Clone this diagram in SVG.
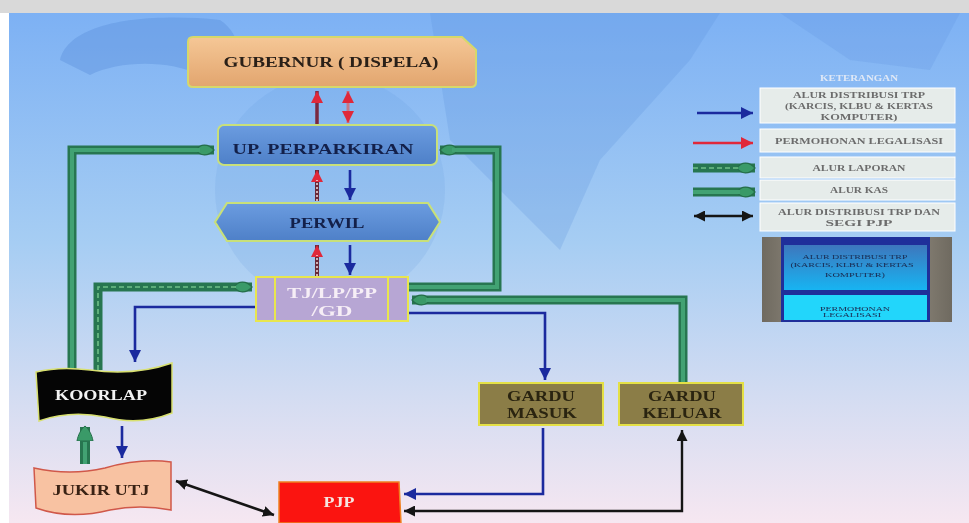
<svg xmlns="http://www.w3.org/2000/svg" width="969" height="523" viewBox="0 0 969 523">
<defs>
<linearGradient id="bg" x1="0" y1="0" x2="0" y2="1">
<stop offset="0" stop-color="#7db1f4"/>
<stop offset="0.45" stop-color="#a6cdf3"/>
<stop offset="0.75" stop-color="#d3dcf2"/>
<stop offset="1" stop-color="#f6e7f1"/>
</linearGradient>
<linearGradient id="gub" x1="0" y1="0" x2="0" y2="1">
<stop offset="0" stop-color="#f5c796"/>
<stop offset="1" stop-color="#e2a56e"/>
</linearGradient>
<linearGradient id="blu" x1="0" y1="0" x2="0" y2="1">
<stop offset="0" stop-color="#6b9ce0"/>
<stop offset="1" stop-color="#4e80c8"/>
</linearGradient>
<linearGradient id="pic" x1="0" y1="0" x2="0" y2="1">
<stop offset="0" stop-color="#3d77bd"/>
<stop offset="1" stop-color="#17b4f2"/>
</linearGradient>
<linearGradient id="edge" x1="0" y1="0" x2="1" y2="0">
<stop offset="0" stop-color="#6f6a60"/>
<stop offset="0.5" stop-color="#b0a89a"/>
<stop offset="1" stop-color="#6f6a60"/>
</linearGradient>
<marker id="ab" markerUnits="userSpaceOnUse" markerWidth="12" markerHeight="12" refX="10" refY="5" orient="auto-start-reverse" viewBox="0 0 10 10"><path d="M0,0 L10,5 L0,10 z" fill="#1b2a9e"/></marker>
<marker id="ak" markerUnits="userSpaceOnUse" markerWidth="11" markerHeight="11" refX="10" refY="5" orient="auto-start-reverse" viewBox="0 0 10 10"><path d="M0,0 L10,5 L0,10 z" fill="#151515"/></marker>
<marker id="ar" markerUnits="userSpaceOnUse" markerWidth="12" markerHeight="12" refX="10" refY="5" orient="auto-start-reverse" viewBox="0 0 10 10"><path d="M0,0 L10,5 L0,10 z" fill="#e0283a"/></marker>
<marker id="ag" markerUnits="userSpaceOnUse" markerWidth="20" markerHeight="14" refX="18" refY="7" orient="auto" viewBox="0 0 20 14"><path d="M0,7 C4,1 12,0 18,7 C12,14 4,13 0,7 Z" fill="#3a9a68" stroke="#256e4a" stroke-width="1.2"/></marker>
<marker id="agu" markerUnits="userSpaceOnUse" markerWidth="16" markerHeight="18" refX="14" refY="9" orient="auto" viewBox="0 0 16 18"><path d="M0,1 C6,2 12,5 15,9 C12,13 6,16 0,17 Z" fill="#3a9a68" stroke="#256e4a" stroke-width="1"/></marker>
</defs>
<style>
.t{font-family:"Liberation Serif","Times New Roman",serif;font-weight:bold;text-anchor:middle;font-size:14px}
.gO{fill:none;stroke:#277650;stroke-width:9;stroke-linejoin:miter}
.gI{fill:none;stroke:#42a273;stroke-width:4}
.gD{fill:none;stroke:#6fc088;stroke-width:1.6;stroke-dasharray:5 3}
.b{fill:none;stroke:#1b2a9e;stroke-width:2.6}
.k{fill:none;stroke:#151515;stroke-width:2.4}
.lg{fill:#e6ecea;stroke:#ffffff;stroke-width:1}
.lt{font-family:"Liberation Serif","Times New Roman",serif;font-size:9px;fill:#6c6c6c;text-anchor:middle;font-weight:bold}
.pt{font-family:"Liberation Serif","Times New Roman",serif;font-size:6px;fill:#1a2a50;text-anchor:middle}
</style>

<!-- background -->
<rect x="0" y="0" width="969" height="523" fill="#ffffff"/>
<rect x="0" y="0" width="969" height="13" fill="#d9d9d9"/>
<rect x="9" y="13" width="960" height="510" fill="url(#bg)"/>
<g fill="#5a8fdb" opacity="0.4">
<path d="M60,60 C70,20 150,13 220,20 C250,40 240,80 200,75 C170,60 120,60 90,75 Z"/>
<circle cx="330" cy="190" r="115" opacity="0.35"/>
<path d="M430,13 L720,13 L690,60 L600,160 L560,250 L450,140 Z" opacity="0.55"/>
<path d="M780,13 L960,13 L930,70 L850,60 Z" opacity="0.5"/>
</g>

<!-- connectors -->
<g id="connectors">
<path class="gO" d="M72,370 L72,150 L214,150" marker-end="url(#ag)"/>
<path class="gI" d="M72,370 L72,150 L200,150"/>
<path class="gO" d="M98,370 L98,287 L252,287" stroke="#2a6c4a" marker-end="url(#ag)"/>
<path class="gD" d="M98,370 L98,287 L238,287"/>
<path class="gO" d="M408,287 L497,287 L497,150 L440,150" marker-end="url(#ag)"/>
<path class="gI" d="M408,287 L497,287 L497,150 L452,150"/>
<path class="gO" d="M683,382 L683,300 L412,300" marker-end="url(#ag)"/>
<path class="gI" d="M683,382 L683,300 L426,300"/>
<path d="M85,464 L85,427" stroke="#277650" stroke-width="10" fill="none" marker-end="url(#agu)"/>
<path d="M85,464 L85,442" stroke="#42a273" stroke-width="4" fill="none"/>

<path class="b" d="M255,307 L135,307 L135,362" marker-end="url(#ab)"/>
<path class="b" d="M408,313 L545,313 L545,380" marker-end="url(#ab)"/>
<path class="b" d="M543,428 L543,494 L404,494" marker-end="url(#ab)" stroke="#1a2585"/>
<path class="b" d="M122,426 L122,458" marker-end="url(#ab)"/>
<path class="b" d="M350,170 L350,200" marker-end="url(#ab)"/>
<path class="b" d="M350,245 L350,275" marker-end="url(#ab)"/>

<path class="k" d="M404,511 L682,511 L682,430" marker-start="url(#ak)" marker-end="url(#ak)"/>
<path class="k" d="M176,481 L274,515" marker-start="url(#ak)" marker-end="url(#ak)"/>

<path d="M317,124 L317,91" stroke="#7a2840" stroke-width="3.5" fill="none" marker-end="url(#ar)"/>
<path d="M348,123 L348,91" stroke="#c87888" stroke-width="3" fill="none" marker-start="url(#ar)" marker-end="url(#ar)"/>
<path d="M317,201 L317,170" stroke="#6a2a3a" stroke-width="4" fill="none" marker-end="url(#ar)"/>
<path d="M317,201 L317,180" stroke="#f0e0e0" stroke-width="1.5" stroke-dasharray="2 2" fill="none"/>
<path d="M317,276 L317,245" stroke="#6a2a3a" stroke-width="4" fill="none" marker-end="url(#ar)"/>
<path d="M317,276 L317,255" stroke="#f0e0e0" stroke-width="1.5" stroke-dasharray="2 2" fill="none"/>
</g>

<!-- nodes -->
<g id="gubernur">
<path d="M193,37 L462,37 L476,50 L476,82 Q476,87 471,87 L193,87 Q188,87 188,82 L188,42 Q188,37 193,37 Z" fill="url(#gub)" stroke="#d6d86a" stroke-width="2"/>
<text class="t" x="331" y="67" fill="#2a2018" textLength="215" lengthAdjust="spacingAndGlyphs">GUBERNUR ( DISPELA)</text>
</g>
<g id="up-perparkiran">
<rect x="218" y="125" width="219" height="40" rx="6" fill="url(#blu)" stroke="#c8e07a" stroke-width="2"/>
<text class="t" x="323" y="154" fill="#13204a" textLength="181" lengthAdjust="spacingAndGlyphs">UP. PERPARKIRAN</text>
</g>
<g id="perwil">
<path d="M215,222 L227,203 L428,203 L440,222 L428,241 L227,241 Z" fill="url(#blu)" stroke="#c8e07a" stroke-width="2.2"/>
<text class="t" x="327" y="228" fill="#13204a" textLength="75" lengthAdjust="spacingAndGlyphs">PERWIL</text>
</g>
<g id="tj">
<rect x="256" y="277" width="152" height="44" fill="#b7a6d4" stroke="#e8e64e" stroke-width="2"/>
<line x1="275" y1="277" x2="275" y2="321" stroke="#e8e64e" stroke-width="2"/>
<line x1="388" y1="277" x2="388" y2="321" stroke="#e8e64e" stroke-width="2"/>
<text class="t" x="332" y="298" fill="#f6eef6" textLength="90" lengthAdjust="spacingAndGlyphs">TJ/LP/PP</text>
<text class="t" x="332" y="316" fill="#f6eef6" textLength="41" lengthAdjust="spacingAndGlyphs">/GD</text>
</g>
<g id="koorlap">
<path d="M36,372 Q60,366 90,370 Q135,376 172,363 L172,413 Q140,426 105,417 Q70,410 39,421 Z" fill="#050505" stroke="#d8e070" stroke-width="1.5"/>
<text class="t" x="101" y="400" fill="#f2f2f2" textLength="92" lengthAdjust="spacingAndGlyphs">KOORLAP</text>
</g>
<g id="jukir">
<path d="M34,468 Q70,476 105,468 Q140,458 171,462 L171,510 Q140,504 110,510 Q70,520 36,508 Z" fill="#f8c2a2" stroke="#d0584a" stroke-width="1.5"/>
<text class="t" x="101" y="495" fill="#3a2214" textLength="97" lengthAdjust="spacingAndGlyphs">JUKIR UTJ</text>
</g>
<g id="pjp">
<path d="M279,482 L399,482 L401,523 L279,523 Z" fill="#fb1410" stroke="#f08020" stroke-width="1.5"/>
<text class="t" x="339" y="507" fill="#f6e6e0" font-size="13" textLength="31" lengthAdjust="spacingAndGlyphs">PJP</text>
</g>
<g id="gardu-masuk">
<rect x="479" y="383" width="124" height="42" fill="#8b7d47" stroke="#e4e046" stroke-width="2"/>
<text class="t" x="541" y="401" fill="#2a2410" textLength="68" lengthAdjust="spacingAndGlyphs">GARDU</text>
<text class="t" x="542" y="418" fill="#2a2410" textLength="70" lengthAdjust="spacingAndGlyphs">MASUK</text>
</g>
<g id="gardu-keluar">
<rect x="619" y="383" width="124" height="42" fill="#8b7d47" stroke="#e4e046" stroke-width="2"/>
<text class="t" x="682" y="401" fill="#2a2410" textLength="68" lengthAdjust="spacingAndGlyphs">GARDU</text>
<text class="t" x="682" y="418" fill="#2a2410" textLength="79" lengthAdjust="spacingAndGlyphs">KELUAR</text>
</g>

<!-- legend -->
<g id="legend">
<text class="lt" x="859" y="81" style="fill:#dfe8f6" textLength="78" lengthAdjust="spacingAndGlyphs">KETERANGAN</text>
<rect class="lg" x="760" y="88" width="195" height="35"/>
<text class="lt" x="859" y="98" textLength="132" lengthAdjust="spacingAndGlyphs">ALUR DISTRIBUSI TRP</text>
<text class="lt" x="859" y="109" textLength="148" lengthAdjust="spacingAndGlyphs">(KARCIS, KLBU &amp; KERTAS</text>
<text class="lt" x="859" y="120" textLength="77" lengthAdjust="spacingAndGlyphs">KOMPUTER)</text>
<rect class="lg" x="760" y="129" width="195" height="23"/>
<text class="lt" x="859" y="144" textLength="168" lengthAdjust="spacingAndGlyphs">PERMOHONAN LEGALISASI</text>
<rect class="lg" x="760" y="157" width="195" height="21"/>
<text class="lt" x="859" y="171" textLength="93" lengthAdjust="spacingAndGlyphs">ALUR LAPORAN</text>
<rect class="lg" x="760" y="180" width="195" height="20"/>
<text class="lt" x="859" y="193" textLength="58" lengthAdjust="spacingAndGlyphs">ALUR KAS</text>
<rect class="lg" x="760" y="203" width="195" height="28"/>
<text class="lt" x="859" y="215" textLength="162" lengthAdjust="spacingAndGlyphs">ALUR DISTRIBUSI TRP DAN</text>
<text class="lt" x="859" y="226" textLength="67" lengthAdjust="spacingAndGlyphs">SEGI PJP</text>
<path class="b" d="M697,113 L753,113" marker-end="url(#ab)"/>
<path d="M693,143 L753,143" stroke="#e0283a" stroke-width="2.4" fill="none" marker-end="url(#ar)"/>
<path class="gO" d="M693,168 L755,168" stroke="#2a6c4a" marker-end="url(#ag)"/>
<path class="gD" d="M693,168 L740,168"/>
<path class="gO" d="M693,192 L755,192" marker-end="url(#ag)"/>
<path class="gI" d="M693,192 L740,192"/>
<path class="k" d="M694,216 L753,216" marker-start="url(#ak)" marker-end="url(#ak)"/>
<rect x="762" y="237" width="190" height="85" fill="url(#edge)"/>
<rect x="781" y="237" width="149" height="85" fill="#1f2f9a"/>
<rect x="784" y="245" width="143" height="45" fill="url(#pic)"/>
<rect x="784" y="295" width="143" height="25" fill="#22d6fb"/>
<text class="pt" x="855" y="259" textLength="105" lengthAdjust="spacingAndGlyphs">ALUR DISTRIBUSI TRP</text>
<text class="pt" x="852" y="267" textLength="123" lengthAdjust="spacingAndGlyphs">(KARCIS, KLBU &amp; KERTAS</text>
<text class="pt" x="855" y="277" textLength="60" lengthAdjust="spacingAndGlyphs">KOMPUTER)</text>
<text class="pt" x="855" y="311" textLength="70" lengthAdjust="spacingAndGlyphs">PERMOHONAN</text>
<text class="pt" x="852" y="317" textLength="58" lengthAdjust="spacingAndGlyphs">LEGALISASI</text>
</g>
</svg>
